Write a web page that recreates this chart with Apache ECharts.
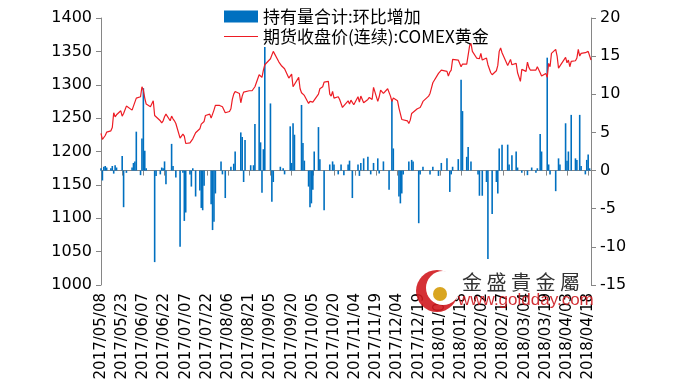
<!DOCTYPE html>
<html>
<head>
<meta charset="utf-8">
<script src="https://cdn.jsdelivr.net/npm/echarts@6/dist/echarts.min.js"></script>
<style>
html,body{margin:0;padding:0;background:#fff;}
#chart{width:692px;height:390px;}
</style>
</head>
<body>
<div id="chart"></div>
<script>
// Calendar span of the date axis (Excel-style date axis, weekends included as gaps)
var startDate = '2017/05/08';
var dayCount = 348; // 2017/05/08 .. 2018/04/20

// Series names
var barName = '持有量合计:环比增加';
var lineName = '期货收盘价(连续):COMEX黄金';

// COMEX gold continuous close, one row per week (Mon..Fri), null = holiday
var goldClose = [
  1227,1218,1219,1224,1229,
  1231,1236,1258,1252,1255,
  1261,1253,1257,1256,1268,
  null,1262,1268,1266,1280,
  1282,1297,1292,1280,1271,
  1267,1265,1276,1254,1255,
  1246,1243,1246,1252,1256,
  1246,1253,1249,1246,1242,
  1220,null,1226,1223,1212,
  1213,1215,1219,1217,1228,
  1234,1241,1242,1245,1254,
  1256,1250,1251,1262,1269,
  1269,1270,1267,1268,1258,
  1260,1264,1278,1286,1290,
  1287,1273,1283,1289,1291,
  1291,1290,1291,1290,1297,
  1315,1316,1311,1322,1330,
  null,1339,1339,1350,1351,
  1334,1333,1328,1330,1324,
  1310,1312,1316,1297,1297,
  1311,1294,1288,1287,1284,
  1272,1275,1277,1274,1275,
  1286,1294,1293,1297,1304,
  1305,1286,1283,1290,1280,
  1282,1278,1279,1266,1266,
  1276,1271,1277,1278,1270,
  1282,1274,1283,1285,1273,
  1278,1281,1283,1278,1296,
  1275,1282,1292,null,1287,
  1294,1294,1283,1275,1280,
  1276,1265,1264,1248,1248,
  1246,1242,1247,1257,1257,
  1264,1262,1266,1270,1275,
  null,1283,1287,1295,1303,
  null,1317,1316,1322,1320,
  1320,1313,1319,1322,1338,
  null,1337,1338,1327,1331,
  1331,1333,1358,1362,1350,
  1340,1340,1339,1347,1337,
  1340,1330,1328,1318,1315,
  1321,1329,1350,1355,1348,
  null,1329,1331,1338,1330,
  1332,1318,1318,1305,1323,
  1320,1334,1326,1322,1323,
  1322,1327,1325,1318,1313,
  1317,1311,1332,1327,1347,
  1353,1343,1325,1323,null,
  1341,1333,1337,1327,1335,
  1336,1340,1353,1343,1347,
  1348,1346,1350,1349,1337
];

// Holdings change vs previous day (tonnes), one row per week (Mon..Fri)
var holdingChange = [
  0.3,-1.3,0.5,0.6,0.4,
  0.3,0.6,-0.4,0.7,0.4,
  0,1.9,-4.8,0,-0.3,
  0,0.4,1.0,1.2,5.1,
  -0.6,4.2,10.8,2.6,0.3,
  0,0,0,-12.0,-0.7,
  -0.5,0.4,0.3,1.2,-1.8,
  0,3.5,0.6,0,-0.9,
  -10.0,0,-0.3,-6.6,-5.5,
  -0.5,-2.1,0.3,0,-3.4,
  -2.6,-4.9,-5.2,-2.0,0,
  0,-4.4,-7.8,-6.7,-3.0,
  0,1.2,-0.5,0,-3.6,
  0,0.5,0,0.9,2.5,
  0,5.0,4.4,-1.5,4.0,
  0,0.7,0,0.7,6.1,
  11.0,3.7,-2.9,2.8,16.2,
  0,8.8,-4.1,-1.5,0,
  0,0.5,0,0.3,-0.5,
  0,5.8,1.0,6.2,4.7,
  0,0,8.6,3.6,1.3,
  -2.1,-4.8,-4.3,-2.5,2.5,
  5.7,1.5,0,0,-5.2,
  0,0.8,0,1.2,0.8,
  -0.5,0,0.8,0,-0.6,
  0.8,1.3,0,-3.6,0,
  0.8,-0.7,1.0,0,1.6,
  1.8,0,-0.5,0,1.0,
  1.6,-0.4,0,0,1.2,
  0,-2.5,0,9.3,2.9,
  0,-3.4,-4.3,-3.0,-0.5,
  0,1.2,0,1.4,1.2,
  0,-6.9,-0.5,0,0.5,
  0,0,-0.5,0,0.5,
  0,-0.7,0,1.0,0,
  1.6,0,-2.8,-0.5,0.5,
  0,1.5,0,11.9,7.8,
  1.8,3.1,0,1.2,0,
  0,-0.5,-3.3,0,-3.3,
  -1.5,-11.6,0,0,-5.7,
  -1.5,-3.0,2.9,0,3.4,
  0,3.4,0.8,0,2.0,
  2.5,0.4,0,0,-0.3,
  0,-0.6,0,0,0.4,
  -0.3,0.3,0,4.8,2.5,
  0,14.8,0.8,-0.5,0,
  -2.7,0,1.6,0.8,0,
  6.2,1.3,2.5,0,7.3,
  1.6,1.4,0,7.3,0.6,
  -0.5,1.4,2.1,0.3,0
];

// Axis scales
var leftMin = 1000, leftMax = 1400, leftStep = 50;
var rightMin = -15, rightMax = 20, rightStep = 5;
var labelEvery = 15; // x tick labels every 15 calendar days

// Build calendar categories and map weekday rows onto them
function pad(n){return (n<10?'0':'')+n;}
var categories = [], priceData = [], barData = [];
var p = startDate.split('/');
var base = new Date(Date.UTC(+p[0], +p[1]-1, +p[2]));
for (var d = 0; d < dayCount; d++) {
  var dt = new Date(base.getTime() + d*86400000);
  categories.push(dt.getUTCFullYear()+'/'+pad(dt.getUTCMonth()+1)+'/'+pad(dt.getUTCDate()));
  var wd = d % 7; // 0 = Monday
  if (wd < 5) {
    var idx = Math.floor(d/7)*5 + wd;
    priceData.push(goldClose[idx] === undefined ? null : goldClose[idx]);
    var h = holdingChange[idx];
    barData.push(h === undefined || h === 0 ? null : h);
  } else {
    priceData.push(null);
    barData.push(null);
  }
}

var chart = echarts.init(document.getElementById('chart'), null, {renderer:'canvas'});
var axisGray = '#868686';
var option = {
  backgroundColor: '#ffffff',
  animation: false,
  grid: {left: 101, right: 101, top: 18, bottom: 105, containLabel: false},
  legend: {
    left: 219, top: 3, orient: 'vertical', itemGap: 3,
    itemWidth: 34, itemHeight: 12,
    textStyle: {fontFamily: 'Noto Sans CJK SC', fontSize: 17, color: '#000'},
    data: [
      {name: barName, icon: 'rect'},
      {name: lineName, icon: 'path://M0,0H40V1.4H0Z'}
    ]
  },
  xAxis: {
    type: 'category', data: categories, boundaryGap: false,
    axisLine: {show: true, lineStyle: {color: axisGray, width: 1}},
    axisTick: {show: true, interval: labelEvery-1, length: 5, lineStyle: {color: axisGray}},
    axisLabel: {interval: labelEvery-1, rotate: 90, margin: 8, fontFamily: 'DejaVu Sans', fontSize: 15, color: '#000'},
    splitLine: {show: false}
  },
  yAxis: [
    {type: 'value', min: leftMin, max: leftMax, interval: leftStep, position: 'left',
     axisLine: {show: true, lineStyle: {color: axisGray}},
     axisTick: {show: true, length: 5, lineStyle: {color: axisGray}},
     axisLabel: {fontFamily: 'DejaVu Sans', fontSize: 16, color: '#000', margin: 9,
                 formatter: function(v){return String(v);}},
     splitLine: {show: false}},
    {type: 'value', min: rightMin, max: rightMax, interval: rightStep, position: 'right',
     axisLine: {show: true, lineStyle: {color: axisGray}},
     axisTick: {show: true, length: 5, lineStyle: {color: axisGray}},
     axisLabel: {fontFamily: 'DejaVu Sans', fontSize: 16, color: '#000', margin: 9,
                 formatter: function(v){return String(v);}},
     splitLine: {show: false}}
  ],
  series: [
    {name: barName, type: 'bar', yAxisIndex: 1, data: barData, barWidth: 1.6,
     itemStyle: {color: '#0070C0'}, z: 2},
    {name: lineName, type: 'line', yAxisIndex: 0, data: priceData, connectNulls: true,
     symbol: 'none', showSymbol: false, lineStyle: {color: '#ED1C24', width: 1.2}, itemStyle: {color: '#ED1C24'}, z: 3}
  ],
  graphic: [
    {type: 'circle', shape: {cx: 437, cy: 291, r: 21}, style: {fill: '#d0191f', opacity: 0.9}, z: 100},
    {type: 'circle', shape: {cx: 443, cy: 288, r: 17}, style: {fill: '#ffffff'}, z: 101},
    {type: 'circle', shape: {cx: 440, cy: 294, r: 7}, style: {fill: '#d9a521'}, z: 102},
    {type: 'text', left: 462, top: 272, z: 103,
     style: {text: '金 盛 貴 金 屬', font: '20px "Noto Sans CJK TC"', fill: '#333333'}},
    {type: 'text', left: 458, top: 292, z: 103,
     style: {text: 'www.goldday.com', font: '17px "Liberation Sans"', fill: '#cc1a1f', opacity: 0.9}}
  ]
};
chart.setOption(option);
</script>
</body>
</html>
